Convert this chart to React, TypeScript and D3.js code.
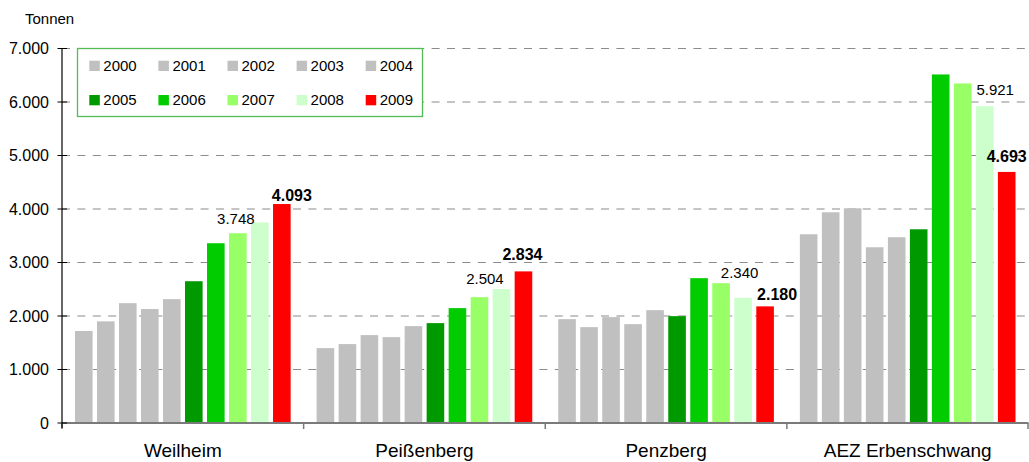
import React from "react";
import * as d3 from "d3";

const categories = ["Weilheim", "Peißenberg", "Penzberg", "AEZ Erbenschwang"];
const years = ["2000", "2001", "2002", "2003", "2004", "2005", "2006", "2007", "2008", "2009"];
const weilheim = [1720, 1900, 2240, 2130, 2315, 2650, 3360, 3547, 3748, 4093];
const peissenberg = [1400, 1475, 1643, 1605, 1811, 1867, 2147, 2352, 2504, 2834];
const penzberg = [1941, 1792, 1979, 1848, 2109, 1997, 2707, 2613, 2340, 2180];
const aez = [3528, 3939, 4013, 3285, 3472, 3621, 6515, 6347, 5921, 4693];
const seriesByCategory = [weilheim, peissenberg, penzberg, aez];
const yTicks = [0, 1000, 2000, 3000, 4000, 5000, 6000, 7000];
const yearColors = ["#C0C0C0", "#C0C0C0", "#C0C0C0", "#C0C0C0", "#C0C0C0", "#009900", "#00CC00", "#99FF66", "#CCFFCC", "#FF0000"];

// labelled bars: [category index, year index, bold]
const labelled: [number, number, boolean][] = [
  [0, 8, false], [0, 9, true],
  [1, 8, false], [1, 9, true],
  [2, 8, false], [2, 9, true],
  [3, 8, false], [3, 9, true],
];
// label placement nudges (dx from bar centre, dy from bar top to baseline)
const labelNudges: [number, number][] = [
  [-24, 2], [10, -3.5],
  [-16.5, -4.7], [-1, -11],
  [-3.5, -20], [12, -6],
  [10.5, -11], [0, -10],
];

const fmt = (v: number) => {
  const s = String(v);
  return s.length > 3 ? s.slice(0, s.length - 3) + "." + s.slice(-3) : s;
};

export default function App() {
  const W = 1029, H = 462;
  const left = 62, right = 1028.5, top = 48.5, bottom = 423;
  const font = "Liberation Sans, Arial, Helvetica, sans-serif";

  const x0 = d3.scaleBand<string>().domain(categories).range([left, right]).padding(0);
  const x1 = d3.scaleBand<string>().domain(years).range([0, x0.bandwidth()]).paddingInner(0.2).paddingOuter(0.59);
  const y = d3.scaleLinear().domain([0, 7000]).range([bottom, top]);

  const legX = 77.5, legY = 48.5, legW = 345, legH = 68;

  return (
    <div style={{ position: "absolute", left: 0, top: 0 }}>
      <svg width={W} height={H} style={{ display: "block", background: "#fff" }} fontFamily={font}>
        <text x={25} y={24} fontSize={15} fill="#000">Tonnen</text>

        {/* gridlines */}
        {yTicks.filter((t) => t > 0).map((t) => (
          <line key={t} x1={left} x2={right} y1={y(t)} y2={y(t)} stroke="#8c8c8c" strokeWidth={1.2} strokeDasharray="8,7.4" />
        ))}

        {/* bars */}
        {categories.map((c, ci) => (
          <g key={c} transform={`translate(${x0(c)},0)`}>
            {years.map((yr, yi) => {
              const v = seriesByCategory[ci][yi];
              return (
                <rect key={yr} x={x1(yr)} y={y(v)} width={x1.bandwidth()} height={y(0) - y(v)} fill={yearColors[yi]} />
              );
            })}
          </g>
        ))}

        {/* data labels */}
        {labelled.map(([ci, yi, bold], k) => {
          const v = seriesByCategory[ci][yi];
          const cx = (x0(categories[ci]) as number) + (x1(years[yi]) as number) + x1.bandwidth() / 2;
          const [dx, dy] = labelNudges[k];
          return (
            <text key={k} x={cx + dx} y={y(v) + dy} textAnchor="middle" fontSize={bold ? 16 : 15} fontWeight={bold ? "bold" : "normal"} fill="#000">
              {fmt(v)}
            </text>
          );
        })}

        {/* x axis */}
        <line x1={left} x2={right} y1={bottom} y2={bottom} stroke="#7a7a7a" strokeWidth={2} />
        {categories.map((c) => (
          <line key={c} x1={x0(c)} x2={x0(c)} y1={bottom} y2={bottom + 6} stroke="#7a7a7a" strokeWidth={1.5} />
        ))}
        <line x1={right - 0.5} x2={right - 0.5} y1={bottom} y2={bottom + 6} stroke="#7a7a7a" strokeWidth={1.5} />
        {categories.map((c) => (
          <text key={c} x={(x0(c) as number) + x0.bandwidth() / 2} y={457} textAnchor="middle" fontSize={19} fill="#000">
            {c}
          </text>
        ))}

        {/* y axis */}
        <line x1={left} x2={left} y1={top} y2={bottom + 5} stroke="#000" strokeWidth={1.2} />
        {yTicks.map((t) => (
          <g key={t}>
            <line x1={left - 4.5} x2={left + 5} y1={y(t)} y2={y(t)} stroke="#000" strokeWidth={1} />
            <text x={49} y={y(t) + 5.5} textAnchor="end" fontSize={16} fill="#000">
              {fmt(t)}
            </text>
          </g>
        ))}

        {/* legend */}
        <rect x={legX} y={legY} width={legW} height={legH} fill="#fff" stroke="#55bb55" strokeWidth={1.3} />
        {years.map((yr, i) => {
          const col = i % 5, row = Math.floor(i / 5);
          const sx = 89.3 + col * 69.1;
          const sy = row === 0 ? 60.7 : 95;
          return (
            <g key={yr}>
              <rect x={sx} y={sy} width={10.5} height={10.3} fill={yearColors[i]} />
              <text x={sx + 14} y={sy + 10.3} fontSize={15} fill="#000">{yr}</text>
            </g>
          );
        })}
      </svg>
    </div>
  );
}
